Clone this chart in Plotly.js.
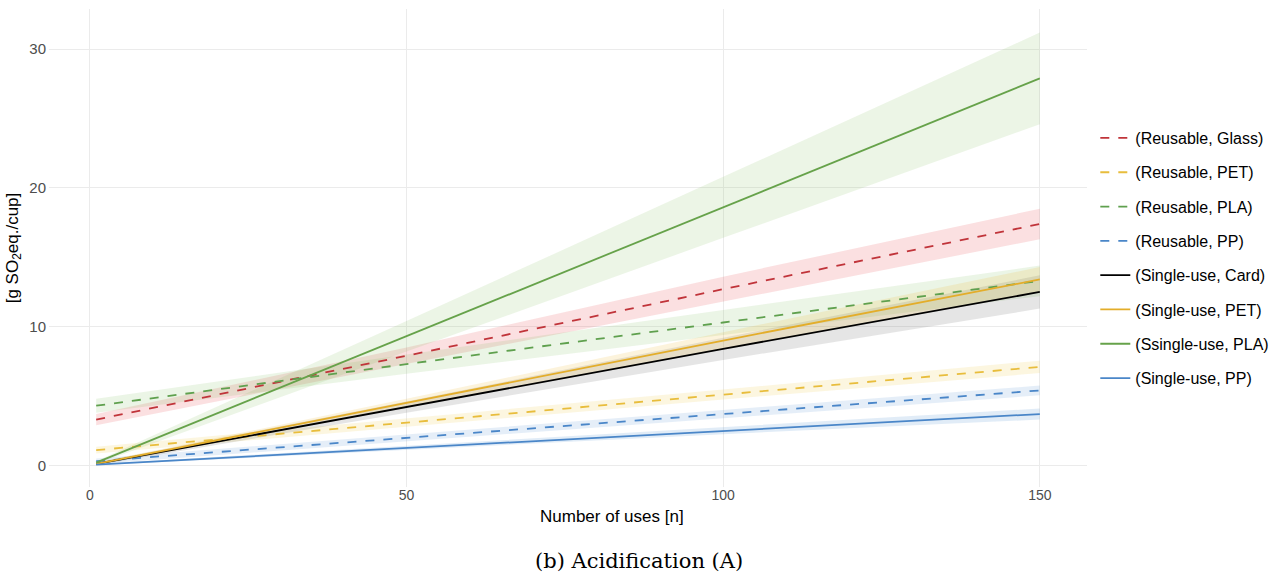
<!DOCTYPE html>
<html>
<head>
<meta charset="utf-8">
<script src="https://cdn.plot.ly/plotly-3.0.1.min.js"></script>
<style>html,body{margin:0;padding:0;background:#fff;}#chart{width:1283px;height:579px;}</style>
</head>
<body>
<div id="chart"></div>
<script>
// Number of uses
const uses = [1, 50, 100, 150];

// Series names (legend order)
const seriesNames = [
  "(Reusable, Glass)", "(Reusable, PET)", "(Reusable, PLA)", "(Reusable, PP)",
  "(Single-use, Card)", "(Single-use, PET)", "(Ssingle-use, PLA)", "(Single-use, PP)"
];

// Mean values [g SO2 eq./cup]
const reusableGlass = [3.3, 7.9, 12.7, 17.4];
const reusablePET   = [1.1, 3.1, 5.1, 7.1];
const reusablePLA   = [4.3, 7.3, 10.3, 13.3];
const reusablePP    = [0.3, 2.0, 3.7, 5.4];
const singleCard    = [0.1, 4.2, 8.4, 12.5];
const singlePET     = [0.1, 4.5, 9.0, 13.4];
const singlePLA     = [0.2, 9.3, 18.6, 27.9];
const singlePP      = [0.05, 1.25, 2.5, 3.7];

// Lower / upper bounds of the uncertainty bands
const reusableGlassLo = [2.9, 7.3, 11.8, 16.3];
const reusableGlassHi = [3.7, 8.5, 13.6, 18.5];
const reusablePETLo   = [0.85, 2.8, 4.75, 6.65];
const reusablePETHi   = [1.35, 3.4, 5.45, 7.55];
const reusablePLALo   = [3.8, 6.6, 9.4, 12.2];
const reusablePLAHi   = [4.8, 8.0, 11.2, 14.4];
const reusablePPLo    = [0.1, 1.75, 3.4, 5.05];
const reusablePPHi    = [0.5, 2.25, 4.0, 5.75];
const singleCardLo    = [0.0, 3.8, 7.6, 11.3];
const singleCardHi    = [0.2, 4.6, 9.2, 13.7];
const singlePETLo     = [0.0, 4.2, 8.4, 12.5];
const singlePETHi     = [0.2, 4.8, 9.6, 14.3];
const singlePLALo     = [0.1, 8.2, 16.4, 24.6];
const singlePLAHi     = [0.3, 10.4, 20.8, 31.2];
const singlePPLo      = [0.0, 1.1, 2.25, 3.3];
const singlePPHi      = [0.1, 1.4, 2.75, 4.1];

const means = [reusableGlass, reusablePET, reusablePLA, reusablePP, singleCard, singlePET, singlePLA, singlePP];
const lows  = [reusableGlassLo, reusablePETLo, reusablePLALo, reusablePPLo, singleCardLo, singlePETLo, singlePLALo, singlePPLo];
const highs = [reusableGlassHi, reusablePETHi, reusablePLAHi, reusablePPHi, singleCardHi, singlePETHi, singlePLAHi, singlePPHi];

const lineColors = ["#c0343a", "#e8bd3c", "#5fa04e", "#4a86c8", "#000000", "#e3ad2a", "#66a24a", "#4a86c8"];
const bandColors = ["rgba(230,70,80,0.17)", "rgba(240,200,70,0.17)", "rgba(120,190,90,0.15)", "rgba(80,140,210,0.15)",
                    "rgba(80,80,80,0.15)", "rgba(235,185,50,0.17)", "rgba(130,190,90,0.15)", "rgba(80,140,210,0.17)"];
const dashes = ["dash", "dash", "dash", "dash", "solid", "solid", "solid", "solid"];

const traces = [];
for (let i = 0; i < seriesNames.length; i++) {
  traces.push({x: uses, y: lows[i], type: "scatter", mode: "lines", line: {width: 0, color: bandColors[i]},
               showlegend: false, hoverinfo: "skip"});
  traces.push({x: uses, y: highs[i], type: "scatter", mode: "lines", line: {width: 0, color: bandColors[i]},
               fill: "tonexty", fillcolor: bandColors[i], showlegend: false, hoverinfo: "skip"});
}
for (let i = 0; i < seriesNames.length; i++) {
  traces.push({x: uses, y: means[i], type: "scatter", mode: "lines", name: seriesNames[i],
               legendgroup: "g" + i,
               line: {color: lineColors[i], width: 1.8, dash: dashes[i]}});
}

const layout = {
  width: 1283, height: 579,
  paper_bgcolor: "#ffffff", plot_bgcolor: "#ffffff",
  margin: {l: 49, r: 194, t: 9, b: 92},
  font: {family: "Liberation Sans, Arial, sans-serif", color: "#4d4d4d"},
  xaxis: {
    range: [-6.45, 157.45], tickvals: [0, 50, 100, 150], ticktext: ["0", "50", "100", "150"],
    showgrid: true, gridcolor: "#ebebeb", gridwidth: 1, zeroline: false, showline: false,
    ticks: "", tickfont: {size: 14, color: "#4d4d4d"}, ticklabelstandoff: -2
  },
  yaxis: {
    range: [-1.56, 32.9], tickvals: [0, 10, 20, 30], ticktext: ["0", "10", "20", "30"],
    showgrid: true, gridcolor: "#ebebeb", gridwidth: 1, zeroline: false, showline: false,
    ticks: "", tickfont: {size: 15, color: "#4d4d4d"}, ticklabelstandoff: 2,
    title: {text: "[g SO<sub>2</sub>eq./cup]", font: {size: 17, color: "#000000"}, standoff: 6}
  },
  legend: {
    x: 1.008, xanchor: "left", y: 0.479, yanchor: "middle",
    font: {size: 16, color: "#000000"}, tracegroupgap: 10.5, bgcolor: "rgba(255,255,255,0)"
  },
  annotations: [
    {text: "Number of uses [n]", xref: "paper", yref: "paper", x: 0.542, y: -0.0607, yanchor: "middle",
     showarrow: false, font: {size: 17, color: "#000000"}},
    {text: "(b) Acidification (A)", xref: "paper", yref: "paper", x: 0.568, y: -0.155, yanchor: "middle",
     showarrow: false, font: {size: 21, color: "#000000", family: "DejaVu Serif, Liberation Serif, serif"}}
  ]
};

Plotly.newPlot("chart", traces, layout, {displayModeBar: false, staticPlot: true});
</script>
</body>
</html>
